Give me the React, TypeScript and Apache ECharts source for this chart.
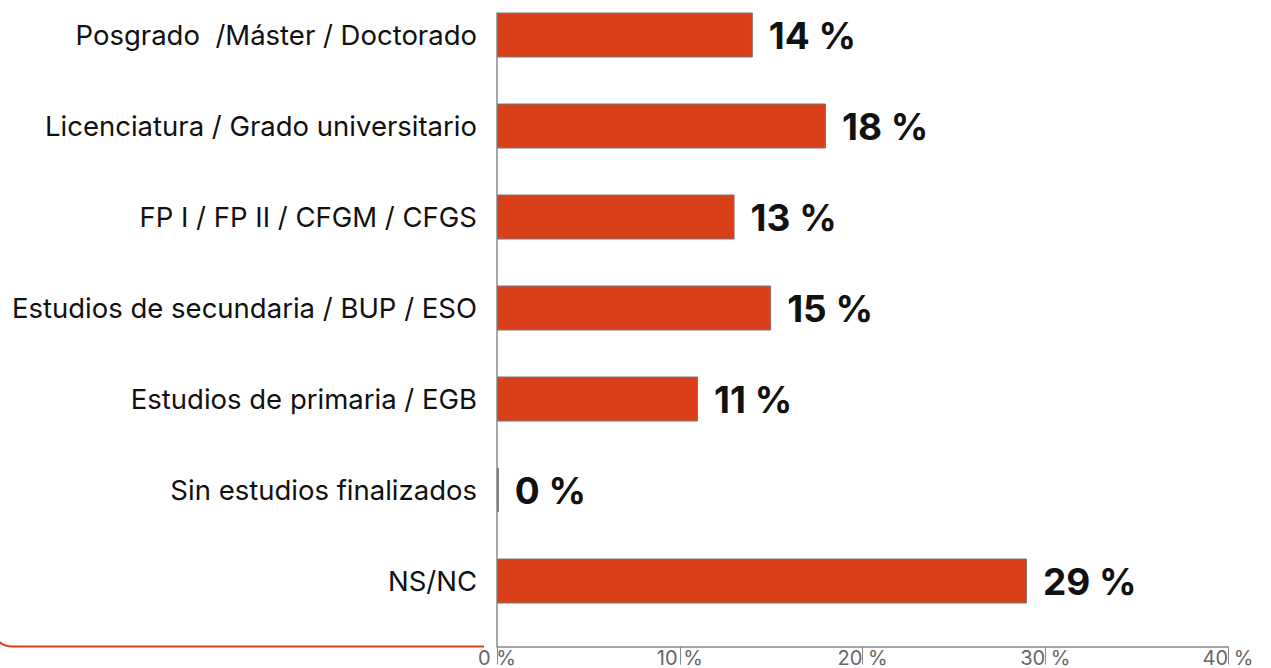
import React, { useEffect, useRef } from "react";
import * as echarts from "echarts";

const categories = [
  "Posgrado  /Máster / Doctorado",
  "Licenciatura / Grado universitario",
  "FP I / FP II / CFGM / CFGS",
  "Estudios de secundaria / BUP / ESO",
  "Estudios de primaria / EGB",
  "Sin estudios finalizados",
  "NS/NC",
];
const values = [14, 18, 13, 15, 11, 0.1, 29];
const xTicks = [0, 10, 20, 30, 40];

const W = 1271;
const H = 668;
const GRID_LEFT = 497;
const GRID_RIGHT = 43;
const GRID_TOP = -10.5;
const GRID_BOTTOM = 41.5;
const AXIS_OFFSET = 20;
const BAR_W = 45;
const RED = "#d9401a";

export default function App() {
  const ref = useRef<HTMLDivElement>(null);
  useEffect(() => {
    if (!ref.current) return;
    const chart = echarts.init(ref.current, undefined, { renderer: "svg" });
    const band = (H - GRID_TOP - GRID_BOTTOM) / categories.length;
    const axisY = H - GRID_BOTTOM + AXIS_OFFSET;
    const yLineTop = GRID_TOP + band / 2 - BAR_W / 2;
    chart.setOption({
      animation: false,
      textStyle: { fontFamily: "Inter, 'Noto Sans', sans-serif" },
      grid: {
        left: GRID_LEFT,
        right: GRID_RIGHT,
        top: GRID_TOP,
        bottom: GRID_BOTTOM,
        containLabel: false,
        outerBoundsMode: "none",
      },
      xAxis: {
        type: "value",
        min: xTicks[0],
        max: xTicks[xTicks.length - 1],
        interval: 10,
        offset: AXIS_OFFSET,
        axisLine: { show: true, lineStyle: { color: "#888", width: 1.5 } },
        axisTick: { show: true, length: 18, lineStyle: { color: "#888", width: 1 } },
        splitLine: { show: false },
        axisLabel: {
          margin: 3,
          formatter: "{value} %",
          color: "#666",
          fontSize: 20,
          lineHeight: 16,
          fontFamily: "Inter, sans-serif",
        },
      },
      yAxis: {
        type: "category",
        data: categories,
        inverse: true,
        axisLine: { show: false },
        axisTick: { show: false },
        axisLabel: {
          margin: 20,
          color: "#111",
          fontSize: 27.5,
          fontFamily: "Inter, sans-serif",
        },
      },
      graphic: [
        {
          type: "line",
          shape: { x1: GRID_LEFT, y1: yLineTop, x2: GRID_LEFT, y2: axisY },
          style: { stroke: "#888", lineWidth: 1.5 },
          z: 1,
        },
        {
          type: "line",
          shape: { x1: 12, y1: axisY, x2: 484, y2: axisY },
          style: { stroke: RED, lineWidth: 2 },
        },
        {
          type: "arc",
          shape: { cx: 12, cy: axisY - 20, r: 20, startAngle: Math.PI / 2, endAngle: Math.PI, clockwise: true },
          style: { stroke: RED, lineWidth: 2, fill: "none" },
        },
      ],
      series: [
        {
          type: "bar",
          data: values,
          barWidth: BAR_W,
          itemStyle: { color: RED, borderColor: "#777", borderWidth: 1 },
          z: 3,
          label: {
            show: true,
            position: "right",
            distance: 16,
            formatter: (p: any) => Math.round(p.value) + " %",
            color: "#111",
            fontSize: 37,
            fontWeight: "bold",
            fontFamily: "Inter, sans-serif",
          },
        },
      ],
    });
    return () => chart.dispose();
  }, []);
  return (
    <div
      ref={ref}
      style={{ position: "fixed", left: 0, top: 0, width: W + "px", height: H + "px", background: "#fff" }}
    />
  );
}
